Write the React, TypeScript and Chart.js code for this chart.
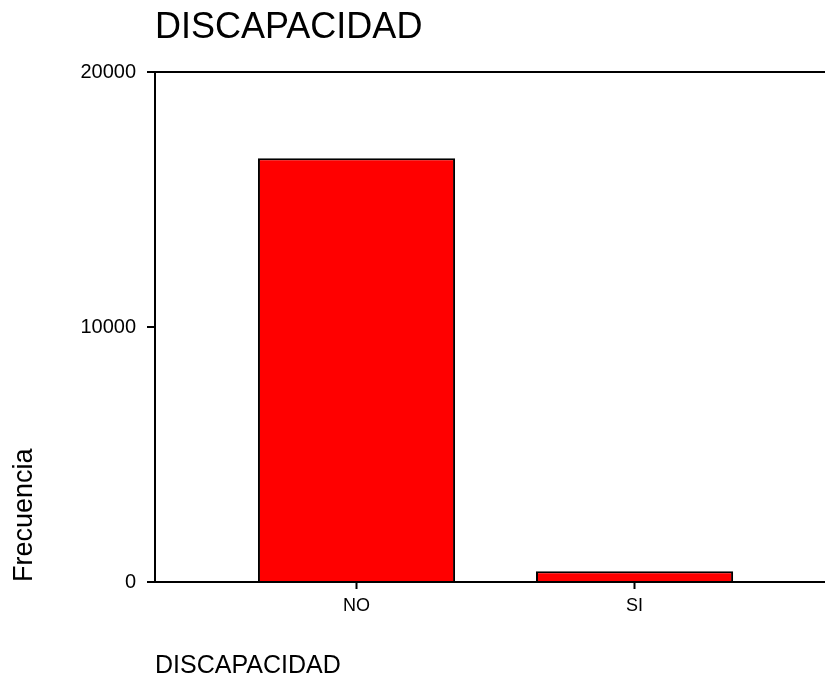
import React, { useEffect, useRef } from "react";
import { Chart, registerables } from "chart.js";

Chart.register(...registerables);

const categories = ["NO", "SI"];
const frequencies = [16620, 420];
const yTicks = [0, 10000, 20000];
const chartTitle = "DISCAPACIDAD";
const xTitle = "DISCAPACIDAD";
const yTitle = "Frecuencia";

export default function App() {
  const ref = useRef<HTMLCanvasElement | null>(null);

  useEffect(() => {
    document.body.style.margin = "0";
    const canvas = ref.current;
    if (!canvas) return;
    const font = "Arial, 'Liberation Sans', sans-serif";
    const chart = new Chart(canvas, {
      type: "bar",
      data: {
        datasets: [
          {
            data: categories.map((c, i) => ({ x: i, y: frequencies[i] })),
            backgroundColor: "#ff0000",
            borderColor: "#000000",
            borderWidth: 2,
            barPercentage: 0.709,
            categoryPercentage: 1,
          },
        ],
      },
      options: {
        responsive: false,
        animation: false,
        layout: { padding: { top: 0, right: 0, bottom: 0, left: 0 } },
        plugins: {
          legend: { display: false },
          tooltip: { enabled: false },
          title: {
            display: true,
            text: chartTitle,
            align: "start",
            fullSize: false,
            color: "#000",
            font: { family: font, size: 36, weight: "normal" },
            padding: { top: 6, bottom: 23 },
          },
        },
        scales: {
          x: {
            type: "linear",
            offset: false,
            min: -0.7248,
            max: 1.685,
            afterBuildTicks: (scale: any) => {
              scale.ticks = categories.map((_, i) => ({ value: i }));
            },
            afterFit: (scale: any) => {
              scale.height = 99;
            },
            ticks: {
              callback: (v: any) => categories[v as number] ?? "",
              color: "#000",
              font: { family: font, size: 18 },
              padding: 6,
              maxRotation: 0,
            },
            grid: {
              offset: false,
              drawOnChartArea: false,
              drawTicks: true,
              tickLength: 7,
              tickColor: "#000",
              tickWidth: 2,
            },
            border: { display: true, color: "#000", width: 2 },
            title: {
              display: true,
              text: xTitle,
              align: "start",
              color: "#000",
              font: { family: font, size: 25 },
              padding: { top: 0, bottom: 0 },
            },
          },
          y: {
            min: 0,
            max: 20000,
            afterBuildTicks: (scale: any) => {
              scale.ticks = yTicks.map((v) => ({ value: v }));
            },
            afterFit: (scale: any) => {
              scale.width = 155;
            },
            ticks: {
              color: "#000",
              font: { family: font, size: 20 },
              padding: 11,
              callback: (v: any) => String(v),
            },
            grid: {
              drawOnChartArea: true,
              color: (ctx: any) =>
                ctx.tick && ctx.tick.value === 20000 ? "#000" : "rgba(0,0,0,0)",
              lineWidth: 2,
              drawTicks: true,
              tickLength: 8,
              tickColor: "#000",
              tickWidth: 2,
            },
            border: { display: true, color: "#000", width: 2 },
            title: {
              display: true,
              text: yTitle,
              align: "start",
              color: "#000",
              font: { family: font, size: 27 },
              padding: { top: 8, bottom: 0 },
            },
          },
        },
      },
    });
    return () => chart.destroy();
  }, []);

  return (
    <div style={{ position: "absolute", left: 0, top: 0, width: 825, height: 681 }}>
      <canvas ref={ref} width={825} height={681} style={{ width: 825, height: 681 }} />
    </div>
  );
}
